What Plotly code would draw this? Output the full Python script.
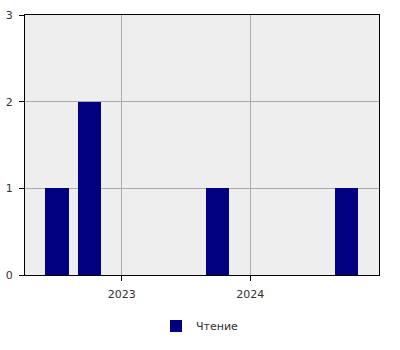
import plotly.graph_objects as go

dates = ["2022-07-01", "2022-10-01", "2023-10-01", "2024-10-01"]
values = [1, 2, 1, 1]
series_name = "Чтение"
year_ticks = ["2023-01-01", "2024-01-01"]
year_labels = ["2023", "2024"]

bar_width_ms = 66 * 24 * 3600 * 1000

fig = go.Figure()
fig.add_trace(go.Bar(
    x=dates, y=values, name=series_name,
    width=[bar_width_ms] * len(dates),
    marker=dict(color="#000080", line=dict(width=0)),
    showlegend=True,
))

fig.update_layout(
    width=400, height=350,
    margin=dict(l=25, r=21, t=15, b=75, autoexpand=False),
    paper_bgcolor="white",
    plot_bgcolor="#eeeeee",
    font=dict(family="DejaVu Sans", size=11, color="#333333"),
    showlegend=True,
    legend=dict(orientation="h", x=0.5, xanchor="center", xref="container",
                y=1 - 326 / 350, yanchor="middle", yref="container",
                font=dict(size=11, color="#333333")),
    bargap=0,
)
fig.update_xaxes(
    type="date",
    range=["2022-04-01", "2025-01-01"],
    tickvals=year_ticks, ticktext=year_labels,
    showgrid=True, gridcolor="#aaaaaa", gridwidth=1,
    showline=True, linecolor="black", linewidth=1, mirror=True,
    ticks="outside", ticklen=5, tickcolor="black",
    ticklabelstandoff=4,
    zeroline=False, automargin=False,
)
fig.update_yaxes(
    range=[0, 3], dtick=1,
    showgrid=True, gridcolor="#aaaaaa", gridwidth=1,
    showline=True, linecolor="black", linewidth=1, mirror=True,
    ticks="outside", ticklen=5, tickcolor="black",
    ticklabelstandoff=4,
    zeroline=False, automargin=False,
)

fig.write_html("out.html")
